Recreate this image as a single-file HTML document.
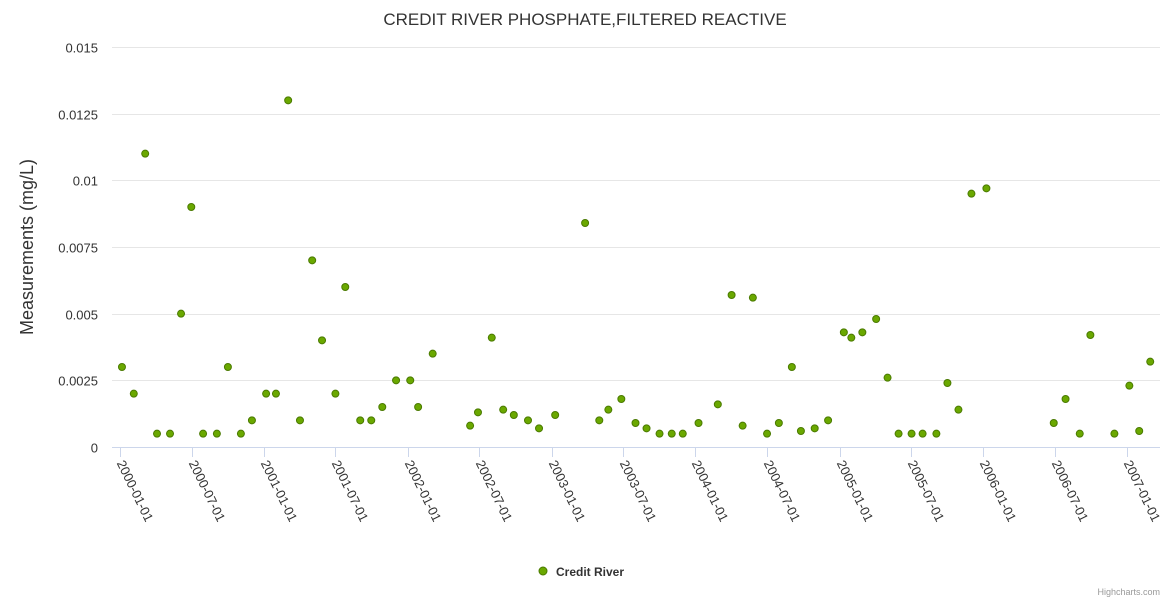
<!DOCTYPE html>
<html><head><meta charset="utf-8">
<style>
html,body{margin:0;padding:0;background:#fff;}
svg{display:block;font-family:"Liberation Sans",sans-serif;}
</style></head>
<body>
<svg id="chart" width="1170" height="600" xmlns="http://www.w3.org/2000/svg">
<text x="585" y="25" text-anchor="middle" font-size="17" fill="#333">CREDIT RIVER PHOSPHATE,FILTERED REACTIVE</text>
<text transform="translate(33,247) rotate(-90)" text-anchor="middle" font-size="18" fill="#333">Measurements (mg/L)</text>
<g id="grid"></g><g id="xaxis"></g><g id="points"></g>
<g>
<circle cx="543" cy="571" r="4" fill="#6aa800" stroke="#4a7a00" stroke-width="1"/>
<text x="556" y="576" font-size="12" font-weight="bold" fill="#333">Credit River</text>
</g>
<text x="1160" y="595" text-anchor="end" font-size="9" fill="#999">Highcharts.com</text>
</svg>
<script>
const dates=["2000-01-06","2000-02-05","2000-03-05","2000-04-04","2000-05-07","2000-06-04","2000-06-30","2000-07-30","2000-09-03","2000-10-01","2000-11-03","2000-12-01","2001-01-06","2001-01-31","2001-03-03","2001-04-02","2001-05-03","2001-05-28","2001-07-01","2001-07-26","2001-09-02","2001-09-30","2001-10-28","2001-12-02","2002-01-07","2002-01-27","2002-03-05","2002-06-08","2002-06-28","2002-08-02","2002-08-31","2002-09-27","2002-11-02","2002-11-30","2003-01-10","2003-03-27","2003-05-02","2003-05-25","2003-06-27","2003-08-02","2003-08-30","2003-10-02","2003-11-02","2003-11-30","2004-01-09","2004-02-27","2004-04-02","2004-04-30","2004-05-26","2004-07-01","2004-07-31","2004-09-02","2004-09-25","2004-10-30","2004-12-03","2005-01-12","2005-01-31","2005-02-28","2005-04-04","2005-05-03","2005-05-31","2005-07-03","2005-07-31","2005-09-04","2005-10-02","2005-10-30","2005-12-02","2006-01-09","2006-06-29","2006-07-29","2006-09-03","2006-09-30","2006-11-30","2007-01-07","2007-02-01","2007-03-01"];
const values=[0.003,0.002,0.011,0.0005,0.0005,0.005,0.009,0.0005,0.0005,0.003,0.0005,0.001,0.002,0.002,0.013,0.001,0.007,0.004,0.002,0.006,0.001,0.001,0.0015,0.0025,0.0025,0.0015,0.0035,0.0008,0.0013,0.0041,0.0014,0.0012,0.001,0.0007,0.0012,0.0084,0.001,0.0014,0.0018,0.0009,0.0007,0.0005,0.0005,0.0005,0.0009,0.0016,0.0057,0.0008,0.0056,0.0005,0.0009,0.003,0.0006,0.0007,0.001,0.0043,0.0041,0.0043,0.0048,0.0026,0.0005,0.0005,0.0005,0.0005,0.0024,0.0014,0.0095,0.0097,0.0009,0.0018,0.0005,0.0042,0.0005,0.0023,0.0006,0.0032];
const yTicks=[0,0.0025,0.005,0.0075,0.01,0.0125,0.015];
const yTickLabels=["0","0.0025","0.005","0.0075","0.01","0.0125","0.015"];
const xTicks=["2000-01-01","2000-07-01","2001-01-01","2001-07-01","2002-01-01","2002-07-01","2003-01-01","2003-07-01","2004-01-01","2004-07-01","2005-01-01","2005-07-01","2006-01-01","2006-07-01","2007-01-01"];
const NS="http://www.w3.org/2000/svg";
const t0=Date.parse("2000-01-01"),t1=Date.parse("2007-01-01");
function xScale(d){return 120+(Date.parse(d)-t0)/(t1-t0)*(1127-120);}
function yScale(v){return 447-v/0.015*400;}
function mk(tag,attrs,parent){const e=document.createElementNS(NS,tag);for(const k in attrs)e.setAttribute(k,attrs[k]);parent.appendChild(e);return e;}
const grid=document.getElementById('grid'),xa=document.getElementById('xaxis'),pts=document.getElementById('points');
yTicks.forEach((v,i)=>{
  const y=Math.round(yScale(v))+0.5;
  const l=mk('line',{x1:112,x2:1160,y1:y,y2:y,stroke:i==0?'#ccd6eb':'#e6e6e6','stroke-width':1},grid);
  
  
  const t=mk('text',{x:98,y:y+5,'text-anchor':'end','font-size':13,fill:'#333'},grid);
  t.textContent=yTickLabels[i];
  
  
});
xTicks.forEach(d=>{
  const x=Math.round(xScale(d))+0.5;
  const l=mk('line',{x1:x,x2:x,y1:447,y2:457,stroke:'#ccd6eb'},xa);
  
  
  const t=mk('text',{x:x-4,y:463,'font-size':13,fill:'#333',transform:`rotate(64 ${x-4} 463)`},xa);
  t.textContent=d;
  
  
});
dates.forEach((d,i)=>{
  const c=mk('circle',{cx:xScale(d),cy:yScale(values[i]),r:3.5,fill:'#6aa800',stroke:'#4a7a00','stroke-width':1},pts);
  
  
});
</script>
</body></html>
